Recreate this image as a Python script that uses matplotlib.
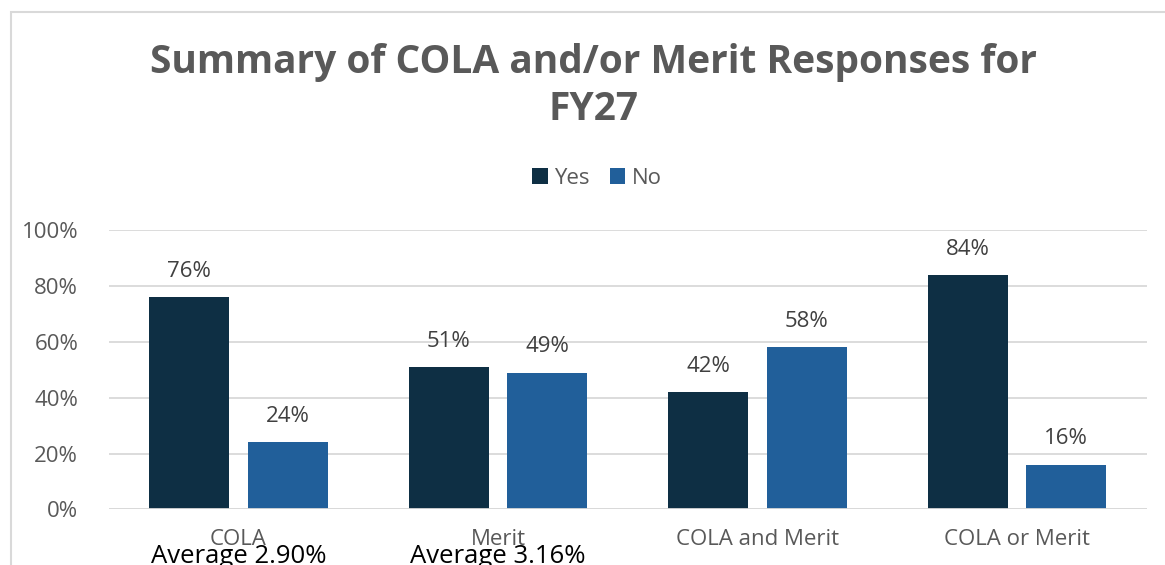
import numpy as np
import matplotlib.pyplot as plt
from matplotlib.patches import Rectangle

categories = ['COLA', 'Merit', 'COLA and Merit', 'COLA or Merit']
yes_vals = [76, 51, 42, 84]
no_vals = [24, 49, 58, 16]
averages = ['Average 2.90%', 'Average 3.16%']

yes_color = '#0E2F44'
no_color = '#215F9A'
text_gray = '#595959'
grid_gray = '#D9D9D9'
font = 'Open Sans'

fig = plt.figure(figsize=(11.65, 5.65), dpi=100)
W, H = 1165, 565

# chart border (runs off the right / bottom edge)
fig.patches.append(Rectangle((11 / W, -0.1), 1.2, (565 - 12) / H + 0.1,
                             transform=fig.transFigure, fill=False,
                             edgecolor=grid_gray, linewidth=1.5))

ax = fig.add_axes([108.75 / W, (565 - 509.3) / H, 1038 / W, 279 / H])
x = np.arange(len(categories))
w = 0.308
off = 0.19
b1 = ax.bar(x - off, yes_vals, w, color=yes_color, label='Yes', zorder=3)
b2 = ax.bar(x + off, no_vals, w, color=no_color, label='No', zorder=3)

for bars, vals in [(b1, yes_vals), (b2, no_vals)]:
    for r, v in zip(bars, vals):
        ax.annotate(f'{v}%', (r.get_x() + r.get_width() / 2, v),
                    xytext=(0, 11), textcoords='offset points',
                    ha='center', va='bottom', fontsize=16,
                    color='#404040', family=font)

ax.set_xlim(-0.5, 3.5)
ax.set_ylim(0, 100)
ax.set_yticks(range(0, 101, 20))
ax.set_yticklabels([f'{t}%' for t in range(0, 101, 20)], fontsize=16,
                   color=text_gray, family=font)
ax.set_xticks(x)
ax.set_xticklabels(categories, fontsize=16, color=text_gray, family=font)
ax.tick_params(length=0, pad=14)
ax.tick_params(axis='y', pad=22)
ax.yaxis.grid(True, color=grid_gray, linewidth=1.3, zorder=0)
for s in ax.spines.values():
    s.set_visible(False)
ax.axhline(0, color=grid_gray, linewidth=1.3, zorder=4)

for i, a in enumerate(averages):
    fig.text((108.75 + 259.5 * (i + 0.5)) / W, 1 - 544 / H, a,
             ha='center', va='top', fontsize=18.5, color='black', family=font)

fig.text(594 / W, 1 - 86 / H, 'Summary of COLA and/or Merit Responses for\nFY27',
         ha='center', va='center', fontsize=28, fontweight='bold',
         color=text_gray, family=font, linespacing=1.3)

leg = fig.legend(loc='center', bbox_to_anchor=(597 / W, 1 - 178 / H), ncol=2,
                 frameon=False, handlelength=0.7, handleheight=0.7,
                 handletextpad=0.3, columnspacing=0.9,
                 prop={'family': font, 'size': 16})
for t in leg.get_texts():
    t.set_color(text_gray)

fig.savefig('out.png', dpi=100)
